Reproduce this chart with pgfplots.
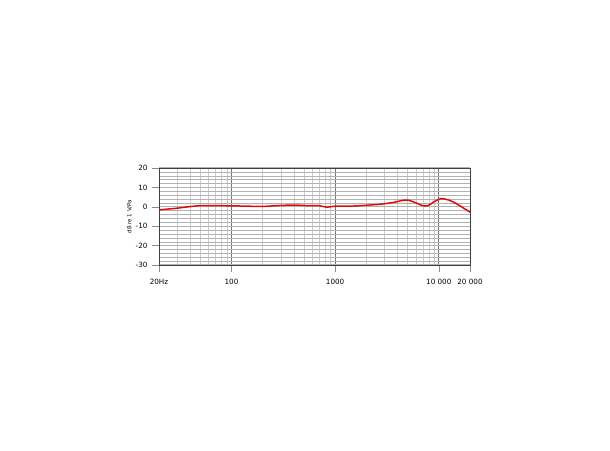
\documentclass[border=0pt]{standalone}
\usepackage{pgfplots}
\pgfplotsset{compat=1.18}
\usepackage{fontspec}
\setmainfont{DejaVu Sans}
\begin{document}
\begin{tikzpicture}
\useasboundingbox (0,0) rectangle (610pt,450pt);
\begin{axis}[
  at={(159pt,185pt)}, anchor=south west,
  scale only axis, width=311pt, height=97pt,
  xmode=log, xmin=20, xmax=20000, ymin=-30, ymax=20,
  xtick={20,100,1000,10000,20000},
  xticklabels={20Hz,100,1000,10 000,20 000},
  minor xtick={30,40,50,60,70,80,90,200,300,400,500,600,700,800,900,2000,3000,4000,5000,6000,7000,8000,9000},
  ytick={-30,-20,-10,0,10,20},
  minor ytick={-28,-26,-24,-22,-18,-16,-14,-12,-8,-6,-4,-2,2,4,6,8,12,14,16,18},
  grid=both,
  minor x grid style={black!20, line width=0.4pt},
  minor y grid style={black!30, line width=0.4pt},
  major x grid style={black!55, line width=0.6pt},
  major y grid style={black!30, line width=1.1pt},
  axis line style={black!75, line width=0.6pt},
  tick align=outside, tick pos=left,
  major tick length=7pt, minor tick length=0pt,
  tick style={black!45, line width=0.5pt},
  ticklabel style={font=\fontsize{7.2}{8}\selectfont, text=black},
  /pgf/number format/assume math mode=true,
  yticklabel style={xshift=-1pt},
  xticklabel style={yshift=-4pt},
  ylabel={dB re 1 V/Pa},
  ylabel style={font=\fontsize{5.5}{6.5}\selectfont, text=black},
  ylabel shift=-3pt,
]
\addplot[color={rgb,255:red,228;green,10;blue,10}, line width=1.5pt, smooth, tension=0.5] coordinates {
(20,-1.6) (30,-0.7) (40,0.1) (50,0.6) (70,0.6) (100,0.5) (150,0.3) (200,0.2)
(300,0.7) (400,0.9) (550,0.6) (700,0.6) (830,-0.2) (1000,0.3) (1500,0.4)
(2000,0.8) (2700,1.3) (3600,2.2) (4500,3.3) (5100,3.4) (5900,2.2) (7000,0.6)
(7900,0.6) (9000,2.6) (10500,4.2) (12400,3.5) (14700,1.7) (20000,-2.8)
};
\end{axis}
\end{tikzpicture}
\end{document}
